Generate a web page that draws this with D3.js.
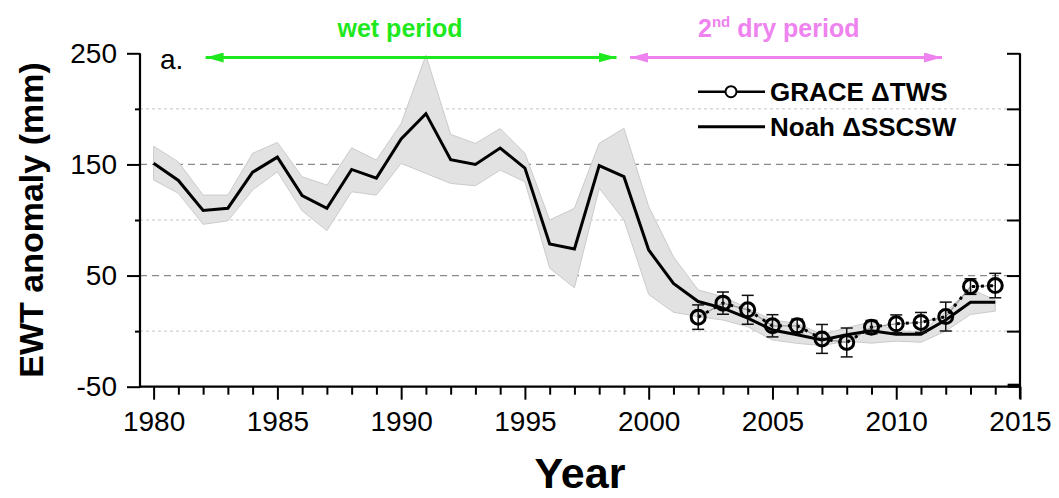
<!DOCTYPE html>
<html>
<head>
<meta charset="utf-8">
<script src="https://cdn.jsdelivr.net/npm/d3@7"></script>
<style>
  body { margin: 0; background: #fff; }
  svg { display: block; font-family: Arial, "Liberation Sans", sans-serif; }
</style>
</head>
<body>
<div id="container"></div>
<script>
// EWT anomaly chart, Noah vs GRACE

// Noah dSSCSW yearly values + grey envelope
const noahYears = [1980,1981,1982,1983,1984,1985,1986,1987,1988,1989,1990,1991,1992,1993,1994,1995,1996,1997,
  1998,1999,2000,2001,2002,2003,2004,2005,2006,2007,2008,2009,2010,2011,2012,2013,2014];
const noahValues = [151,135.6,108.6,110.6,143,156.6,122,110.6,145.5,137.7,173,195.7,154.2,150,164.7,146.7,78.5,74,
  148.9,139,73,43,26.6,20.7,11.7,1,-3.3,-8,-3.3,0.3,-2.7,-2.7,10,26,26];
const bandUpper = [166.4,152.3,122.4,122.4,160,169.8,138.9,131.4,164.9,153.9,186.8,248.2,177,168.9,182.3,160,100,110.5,
  169,182.5,112,67,37,31,20.7,10,7,-3,3,8.6,0.5,-1,17.6,38,28];
const bandLower = [136,124,96.1,99.3,127,143.4,108.3,90.4,125.4,122.4,150.9,141.9,132.9,130.8,144.9,134.4,56.6,39,
  128.6,100,33,17,13,10,4,-8,-11,-13,-9,-10.8,-9,-10,0,15,18];

// GRACE dTWS with error bars
const graceYears = [2002,2003,2004,2005,2006,2007,2008,2009,2010,2011,2012,2013,2014];
const graceValues = [12.6,25.2,19.2,4.8,4.8,-7,-10.2,3.6,6.6,7.8,13.1,40.1,41];
const graceErr = [11,10,13,10,6,13,13,6,8,9,13,7,11];

// axis ticks
const xMajor = [1980,1985,1990,1995,2000,2005,2010,2015];
const xMinor = [1981,1982,1983,1984,1986,1987,1988,1989,1991,1992,1993,1994,1996,1997,1998,1999,
  2001,2002,2003,2004,2006,2007,2008,2009,2011,2012,2013,2014];
const yMajor = [250,150,50,-50];
const yMinor = [200,100,0];

// period arrows (years) at the top
const periods = [
  {from: 1982.1, to: 1998.7, color: "#1ee81e"},
  {from: 1999.25, to: 2011.85, color: "#ee82ee"}
];

const W = 1059, H = 498;
const plot = {left: 140, right: 1020, top: 53.3, bottom: 386.7};

const svg = d3.select("#container").append("svg")
  .attr("width", W).attr("height", H);

const x = d3.scaleLinear().domain([1979.45, 2015]).range([plot.left, plot.right]);
const y = d3.scaleLinear().domain([-50, 250]).range([plot.bottom, plot.top]);

const noah = noahYears.map((yr, i) => ({yr, v: noahValues[i], hi: bandUpper[i], lo: bandLower[i]}));
const grace = graceYears.map((yr, i) => ({yr, v: graceValues[i], e: graceErr[i]}));

// grid lines
svg.append("g").selectAll("line")
  .data(yMajor.concat(yMinor).filter(d => d > -50 && d < 250))
  .join("line")
    .attr("x1", plot.left).attr("x2", plot.right)
    .attr("y1", d => y(d)).attr("y2", d => y(d))
    .attr("stroke", d => yMajor.includes(d) ? "#8a8a8a" : "#c4c4c4")
    .attr("stroke-width", d => yMajor.includes(d) ? 1.3 : 1)
    .attr("stroke-dasharray", d => yMajor.includes(d) ? "7,5" : "3,3");

// envelope
svg.append("path")
  .datum(noah)
  .attr("d", d3.area().x(d => x(d.yr)).y0(d => y(d.lo)).y1(d => y(d.hi)))
  .attr("fill", "#e2e2e2")
  .attr("stroke", "#cbcbcb")
  .attr("stroke-width", 1);

// GRACE connecting lines
const gLine = d3.line().x(d => x(d.yr)).y(d => y(d.v));
svg.append("path").datum(grace).attr("d", gLine)
  .attr("fill", "none").attr("stroke", "#9a9a9a").attr("stroke-width", 1.3);
svg.append("path").datum(grace).attr("d", gLine)
  .attr("fill", "none").attr("stroke", "#000").attr("stroke-width", 3)
  .attr("stroke-dasharray", "3,6");

// Noah line
svg.append("path")
  .datum(noah)
  .attr("d", d3.line().x(d => x(d.yr)).y(d => y(d.v)))
  .attr("fill", "none")
  .attr("stroke", "#000")
  .attr("stroke-width", 3);

// error bars
const eb = svg.append("g").attr("stroke", "#111").attr("stroke-width", 1.5);
eb.selectAll(".v").data(grace).join("line")
  .attr("x1", d => x(d.yr)).attr("x2", d => x(d.yr))
  .attr("y1", d => y(d.v + d.e)).attr("y2", d => y(d.v - d.e));
eb.selectAll(".t").data(grace).join("line")
  .attr("x1", d => x(d.yr) - 6).attr("x2", d => x(d.yr) + 6)
  .attr("y1", d => y(d.v + d.e)).attr("y2", d => y(d.v + d.e));
eb.selectAll(".b").data(grace).join("line")
  .attr("x1", d => x(d.yr) - 6).attr("x2", d => x(d.yr) + 6)
  .attr("y1", d => y(d.v - d.e)).attr("y2", d => y(d.v - d.e));

svg.append("g").selectAll("circle")
  .data(grace)
  .join("circle")
    .attr("cx", d => x(d.yr)).attr("cy", d => y(d.v))
    .attr("r", 7)
    .attr("fill", "none")
    .attr("stroke", "#000")
    .attr("stroke-width", 3);

// axes
const fontTick = "28px";
const plain = d => String(d);   // hyphen minus like the original, not the unicode minus
const xAxis = svg.append("g").attr("transform", `translate(0,${plot.bottom})`)
  .call(d3.axisBottom(x).tickValues(xMajor).tickSize(13).tickSizeOuter(0).tickPadding(11).tickFormat(plain));
xAxis.select(".domain").remove();
xAxis.selectAll("line").attr("stroke-width", 2);
xAxis.selectAll("text").style("font-size", fontTick).attr("fill", "#000");
const xMinorAxis = svg.append("g").attr("transform", `translate(0,${plot.bottom})`)
  .call(d3.axisBottom(x).tickValues(xMinor).tickSize(8).tickSizeOuter(0).tickFormat(""));
xMinorAxis.select(".domain").remove();
xMinorAxis.selectAll("line").attr("stroke-width", 2);

const yAxis = svg.append("g").attr("transform", `translate(${plot.left},0)`)
  .call(d3.axisLeft(y).tickValues(yMajor).tickSize(13).tickSizeOuter(0).tickPadding(10).tickFormat(plain));
yAxis.select(".domain").remove();
yAxis.selectAll("line").attr("stroke-width", 2);
yAxis.selectAll("text").style("font-size", fontTick).attr("fill", "#000");
const yMinorAxis = svg.append("g").attr("transform", `translate(${plot.left},0)`)
  .call(d3.axisLeft(y).tickValues(yMinor).tickSize(5).tickSizeOuter(0).tickFormat(""));
yMinorAxis.select(".domain").remove();
yMinorAxis.selectAll("line").attr("stroke-width", 2);

const yRight = svg.append("g").attr("transform", `translate(${plot.right},0)`)
  .call(d3.axisRight(y).tickValues(yMajor.concat(yMinor).filter(d => d > -50)).tickSize(-13).tickSizeOuter(0).tickFormat(""));
yRight.select(".domain").remove();
yRight.selectAll("line").attr("stroke-width", 2);

// axis lines
const frame = svg.append("g").attr("stroke", "#000").attr("stroke-width", 2.2).attr("fill", "none");
frame.append("line").attr("x1", plot.left).attr("x2", plot.left).attr("y1", plot.top).attr("y2", plot.bottom + 1);
frame.append("line").attr("x1", plot.left - 1).attr("x2", plot.right).attr("y1", plot.bottom).attr("y2", plot.bottom);
frame.append("line").attr("x1", plot.right).attr("x2", plot.right).attr("y1", plot.top).attr("y2", plot.bottom + 12);
svg.append("rect").attr("x", x(2014.5)).attr("y", plot.bottom - 3).attr("width", plot.right - x(2014.5)).attr("height", 4).attr("fill", "#000");

// axis titles
svg.append("text")
  .attr("transform", `translate(43,${(plot.top + plot.bottom) / 2}) rotate(-90)`)
  .attr("text-anchor", "middle")
  .style("font-size", "34px").style("font-weight", "bold")
  .text("EWT anomaly (mm)");
svg.append("text")
  .attr("x", (plot.left + plot.right) / 2).attr("y", 488)
  .attr("text-anchor", "middle")
  .style("font-size", "43px").style("font-weight", "bold")
  .text("Year");

svg.append("text").attr("x", 160).attr("y", 69)
  .style("font-size", "28px").text("a.");

// period arrows
const defs = svg.append("defs");
periods.forEach((p, i) => {
  defs.append("marker")
    .attr("id", "arr" + i)
    .attr("viewBox", "0 0 18 10")
    .attr("refX", 18).attr("refY", 5)
    .attr("markerWidth", 18).attr("markerHeight", 10)
    .attr("markerUnits", "userSpaceOnUse")
    .attr("orient", "auto-start-reverse")
    .append("path").attr("d", "M0,0 L18,5 L0,10 Z").attr("fill", p.color);
  svg.append("line")
    .attr("x1", x(p.from)).attr("x2", x(p.to))
    .attr("y1", 57.5).attr("y2", 57.5)
    .attr("stroke", p.color).attr("stroke-width", 3)
    .attr("marker-start", `url(#arr${i})`)
    .attr("marker-end", `url(#arr${i})`);
});

svg.append("text").attr("x", 400).attr("y", 37)
  .attr("text-anchor", "middle")
  .style("font-size", "25px").style("font-weight", "bold")
  .attr("fill", periods[0].color)
  .text("wet period");

const dry = svg.append("text").attr("x", 698).attr("y", 37)
  .style("font-size", "25px").style("font-weight", "bold")
  .attr("fill", periods[1].color);
dry.append("tspan").text("2");
dry.append("tspan").attr("dy", -10).style("font-size", "15px").text("nd");
dry.append("tspan").attr("dy", 10).text(" dry period");

// legend
const lg = svg.append("g");
lg.append("line").attr("x1", 698).attr("x2", 765).attr("y1", 91.7).attr("y2", 91.7)
  .attr("stroke", "#000").attr("stroke-width", 2.5);
lg.append("circle").attr("cx", 731).attr("cy", 91.7).attr("r", 5.5)
  .attr("fill", "#fff").attr("stroke", "#000").attr("stroke-width", 2);
lg.append("text").attr("x", 770).attr("y", 101)
  .style("font-size", "26px").style("font-weight", "bold").text("GRACE \u0394TWS");
lg.append("line").attr("x1", 698).attr("x2", 765).attr("y1", 126.7).attr("y2", 126.7)
  .attr("stroke", "#000").attr("stroke-width", 3);
lg.append("text").attr("x", 770).attr("y", 136)
  .style("font-size", "26px").style("font-weight", "bold").text("Noah \u0394SSCSW");
</script>
</body>
</html>
